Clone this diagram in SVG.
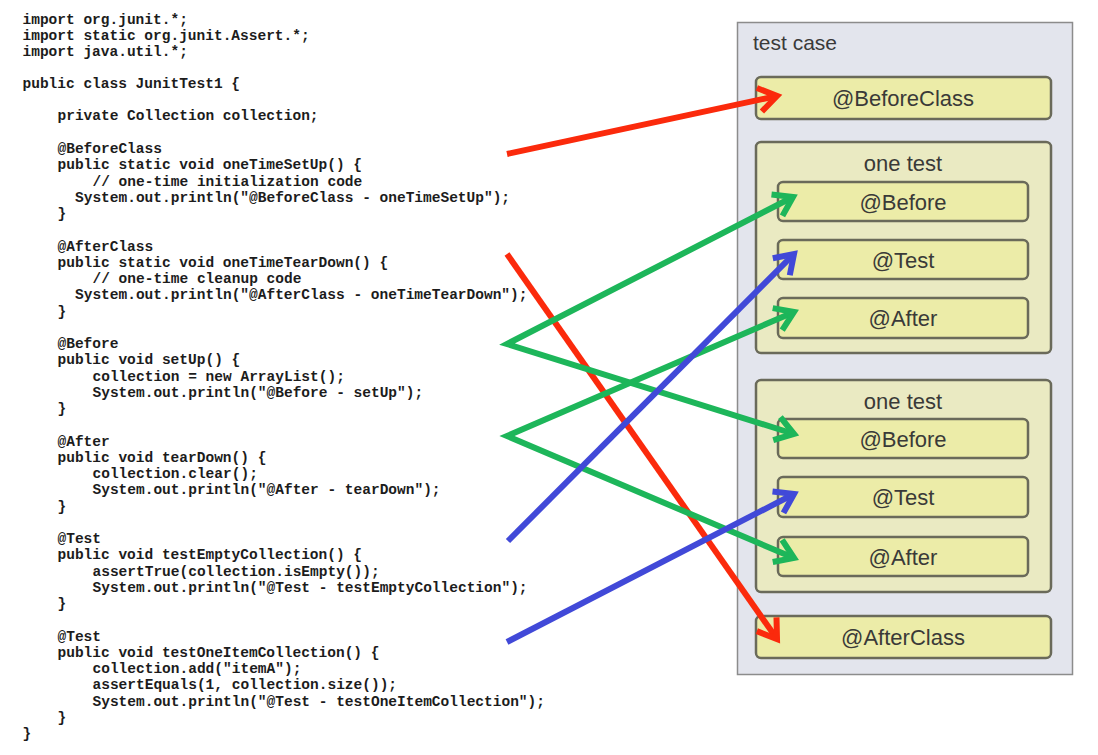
<svg xmlns="http://www.w3.org/2000/svg" width="1098" height="755" viewBox="0 0 1098 755">
<style>
.code{font-family:"Liberation Mono","Courier New",monospace;font-weight:bold;font-size:14.5px;fill:#1c1c1c}
.panel{fill:#e3e5ed;stroke:#8c8c8c;stroke-width:1.5}
.group{fill:#eaeac2;stroke:#6a6a5a;stroke-width:2.5}
.box{fill:#ececa8;stroke:#6a6a5a;stroke-width:2.5}
.lbl{font-family:"Liberation Sans",Arial,sans-serif;font-size:22px;fill:#3a3a38;text-anchor:middle}
.ttl{font-family:"Liberation Sans",Arial,sans-serif;font-size:21px;fill:#3a3a3a}
.red{stroke:#fb2a0c;stroke-width:6;fill:none;stroke-linecap:butt}
.green{stroke:#1db65a;stroke-width:6;fill:none;stroke-linejoin:miter}
.blue{stroke:#4149d8;stroke-width:6;fill:none}
</style>
<defs>
<marker id="ar" markerUnits="userSpaceOnUse" markerWidth="30" markerHeight="30" refX="22" refY="15" orient="auto"><path d="M4,3 L22,15 L4,27" fill="none" stroke="#fb2a0c" stroke-width="6" stroke-linejoin="miter"/></marker>
<marker id="ag" markerUnits="userSpaceOnUse" markerWidth="30" markerHeight="30" refX="22" refY="15" orient="auto-start-reverse"><path d="M4,3 L22,15 L4,27" fill="none" stroke="#1db65a" stroke-width="6" stroke-linejoin="miter"/></marker>
<marker id="ab" markerUnits="userSpaceOnUse" markerWidth="30" markerHeight="30" refX="22" refY="15" orient="auto"><path d="M4,3 L22,15 L4,27" fill="none" stroke="#4149d8" stroke-width="6" stroke-linejoin="miter"/></marker>
</defs>
<rect width="1098" height="755" fill="#ffffff"/>
<g id="code">
<text class="code" x="22.5" y="23.5">import org.junit.*;</text>
<text class="code" x="22.5" y="39.5">import static org.junit.Assert.*;</text>
<text class="code" x="22.5" y="55.5">import java.util.*;</text>
<text class="code" x="22.5" y="87.5">public class JunitTest1 {</text>
<text class="code" x="57.5" y="120">private Collection collection;</text>
<text class="code" x="57.5" y="153">@BeforeClass</text>
<text class="code" x="57.5" y="169.3">public static void oneTimeSetUp() {</text>
<text class="code" x="92.5" y="185.5">// one-time initialization code</text>
<text class="code" x="75" y="201.8">System.out.println("@BeforeClass - oneTimeSetUp");</text>
<text class="code" x="57.5" y="218">}</text>
<text class="code" x="57.5" y="250.5">@AfterClass</text>
<text class="code" x="57.5" y="266.8">public static void oneTimeTearDown() {</text>
<text class="code" x="92.5" y="283">// one-time cleanup code</text>
<text class="code" x="75" y="299.3">System.out.println("@AfterClass - oneTimeTearDown");</text>
<text class="code" x="57.5" y="315.5">}</text>
<text class="code" x="57.5" y="348">@Before</text>
<text class="code" x="57.5" y="364.3">public void setUp() {</text>
<text class="code" x="92.5" y="380.5">collection = new ArrayList();</text>
<text class="code" x="92.5" y="396.8">System.out.println("@Before - setUp");</text>
<text class="code" x="57.5" y="413">}</text>
<text class="code" x="57.5" y="445.5">@After</text>
<text class="code" x="57.5" y="461.8">public void tearDown() {</text>
<text class="code" x="92.5" y="478">collection.clear();</text>
<text class="code" x="92.5" y="494.3">System.out.println("@After - tearDown");</text>
<text class="code" x="57.5" y="510.5">}</text>
<text class="code" x="57.5" y="543">@Test</text>
<text class="code" x="57.5" y="559.3">public void testEmptyCollection() {</text>
<text class="code" x="92.5" y="575.5">assertTrue(collection.isEmpty());</text>
<text class="code" x="92.5" y="591.8">System.out.println("@Test - testEmptyCollection");</text>
<text class="code" x="57.5" y="608">}</text>
<text class="code" x="57.5" y="640.5">@Test</text>
<text class="code" x="57.5" y="656.8">public void testOneItemCollection() {</text>
<text class="code" x="92.5" y="673">collection.add("itemA");</text>
<text class="code" x="92.5" y="689.3">assertEquals(1, collection.size());</text>
<text class="code" x="92.5" y="705.5">System.out.println("@Test - testOneItemCollection");</text>
<text class="code" x="57.5" y="722">}</text>
<text class="code" x="22.5" y="738">}</text>
</g>
<g id="testcase">
<rect class="panel" x="737.5" y="22.5" width="335" height="652"/>
<text class="ttl" x="753" y="50">test case</text>
</g>
<g id="beforeclass">
<rect class="box" x="756" y="77" width="295" height="42" rx="5"/>
<text class="lbl" x="903" y="105.5">@BeforeClass</text>
</g>
<g id="onetest1">
<rect class="group" x="756" y="142" width="295" height="211" rx="5"/>
<text class="lbl" x="903" y="171">one test</text>
</g>
<g id="before1">
<rect class="box" x="778" y="182" width="250" height="39" rx="5"/>
<text class="lbl" x="903" y="209.5">@Before</text>
</g>
<g id="test1">
<rect class="box" x="778" y="240" width="250" height="39" rx="5"/>
<text class="lbl" x="903" y="267.5">@Test</text>
</g>
<g id="after1">
<rect class="box" x="778" y="298" width="250" height="40" rx="5"/>
<text class="lbl" x="903" y="326">@After</text>
</g>
<g id="onetest2">
<rect class="group" x="756" y="380" width="295" height="212" rx="5"/>
<text class="lbl" x="903" y="409">one test</text>
</g>
<g id="before2">
<rect class="box" x="778" y="419" width="250" height="39" rx="5"/>
<text class="lbl" x="903" y="446.5">@Before</text>
</g>
<g id="test2">
<rect class="box" x="778" y="477" width="250" height="40" rx="5"/>
<text class="lbl" x="903" y="505">@Test</text>
</g>
<g id="after2">
<rect class="box" x="778" y="537" width="250" height="39" rx="5"/>
<text class="lbl" x="903" y="564.5">@After</text>
</g>
<g id="afterclass">
<rect class="box" x="756" y="616" width="295" height="42" rx="5"/>
<text class="lbl" x="903" y="644.5">@AfterClass</text>
</g>
<g id="connectors">
<line class="red" x1="507" y1="154" x2="777" y2="96" marker-end="url(#ar)"/>
<line class="red" x1="507" y1="254" x2="777" y2="639" marker-end="url(#ar)"/>
<path class="green" d="M793,197 L507,344 L794,434" marker-start="url(#ag)" marker-end="url(#ag)"/>
<path class="green" d="M794,312 L507,436 L794,558" marker-start="url(#ag)" marker-end="url(#ag)"/>
<line class="blue" x1="508" y1="541" x2="794" y2="254" marker-end="url(#ab)"/>
<line class="blue" x1="507" y1="642" x2="794" y2="494" marker-end="url(#ab)"/>
</g>
</svg>
